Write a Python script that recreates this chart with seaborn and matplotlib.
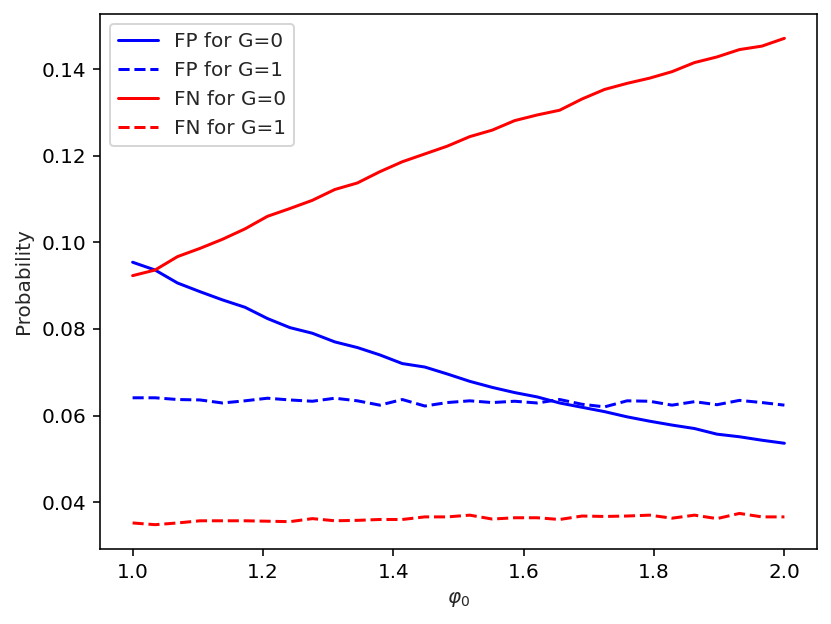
import numpy as np
import pandas as pd
import matplotlib
matplotlib.use("Agg")
import matplotlib.pyplot as plt
import seaborn as sns

phi0 = np.linspace(1.0, 2.0, 30)

fp_g0 = [0.0954, 0.0936, 0.0906, 0.0886, 0.0867, 0.0850, 0.0824, 0.0803, 0.0790, 0.0770,
         0.0757, 0.0740, 0.0720, 0.0712, 0.0696, 0.0679, 0.0665, 0.0653, 0.0643, 0.0629,
         0.0619, 0.0609, 0.0597, 0.0587, 0.0578, 0.0570, 0.0557, 0.0551, 0.0543, 0.0536]
fp_g1 = [0.0641, 0.0641, 0.0637, 0.0636, 0.0629, 0.0634, 0.0640, 0.0636, 0.0633, 0.0640,
         0.0634, 0.0624, 0.0637, 0.0622, 0.0630, 0.0634, 0.0630, 0.0633, 0.0629, 0.0637,
         0.0626, 0.0620, 0.0634, 0.0633, 0.0624, 0.0632, 0.0625, 0.0635, 0.0630, 0.0624]
fn_g0 = [0.0923, 0.0936, 0.0967, 0.0986, 0.1007, 0.1031, 0.1060, 0.1078, 0.1097, 0.1122,
         0.1137, 0.1163, 0.1186, 0.1204, 0.1222, 0.1244, 0.1259, 0.1281, 0.1294, 0.1305,
         0.1331, 0.1353, 0.1367, 0.1379, 0.1394, 0.1415, 0.1428, 0.1445, 0.1453, 0.1471]
fn_g1 = [0.0352, 0.0348, 0.0352, 0.0357, 0.0357, 0.0357, 0.0356, 0.0355, 0.0362, 0.0357,
         0.0358, 0.0360, 0.0360, 0.0366, 0.0366, 0.0370, 0.0361, 0.0364, 0.0364, 0.0360,
         0.0368, 0.0367, 0.0368, 0.0370, 0.0363, 0.0370, 0.0362, 0.0374, 0.0366, 0.0366]

labels = ["FP for G=0", "FP for G=1", "FN for G=0", "FN for G=1"]
series = [fp_g0, fp_g1, fn_g0, fn_g1]
colors = ["blue", "blue", "red", "red"]
styles = ["-", "--", "-", "--"]

sns.set_style("ticks")
plt.rcParams['font.family'] = ['DejaVu Sans']
plt.rcParams['font.size'] = 10

DPI = 144
fig, ax = plt.subplots(figsize=(831 / DPI, 624 / DPI), dpi=DPI)
for lab, vals, c, ls in zip(labels, series, colors, styles):
    df = pd.DataFrame({"phi0": phi0, "p": vals})
    sns.lineplot(data=df, x="phi0", y="p", ax=ax, color=c, linestyle=ls,
                 label=lab, linewidth=1.5)

ax.set_xlabel(r"$\varphi_0$", fontsize=10)
ax.set_ylabel("Probability", fontsize=10)
ax.set_xticks([1.0, 1.2, 1.4, 1.6, 1.8, 2.0])
ax.set_yticks([0.04, 0.06, 0.08, 0.10, 0.12, 0.14])
ax.legend(loc="upper left", fontsize=10)
for s in ax.spines.values():
    s.set_visible(True)
    s.set_color("black")
    s.set_linewidth(0.8)
ax.tick_params(direction="out", length=3.5, width=0.8, colors="black", labelsize=10)
fig.subplots_adjust(left=100 / 831, right=817 / 831, top=1 - 14 / 624, bottom=1 - 549 / 624)
fig.savefig("out.png", dpi=DPI)
